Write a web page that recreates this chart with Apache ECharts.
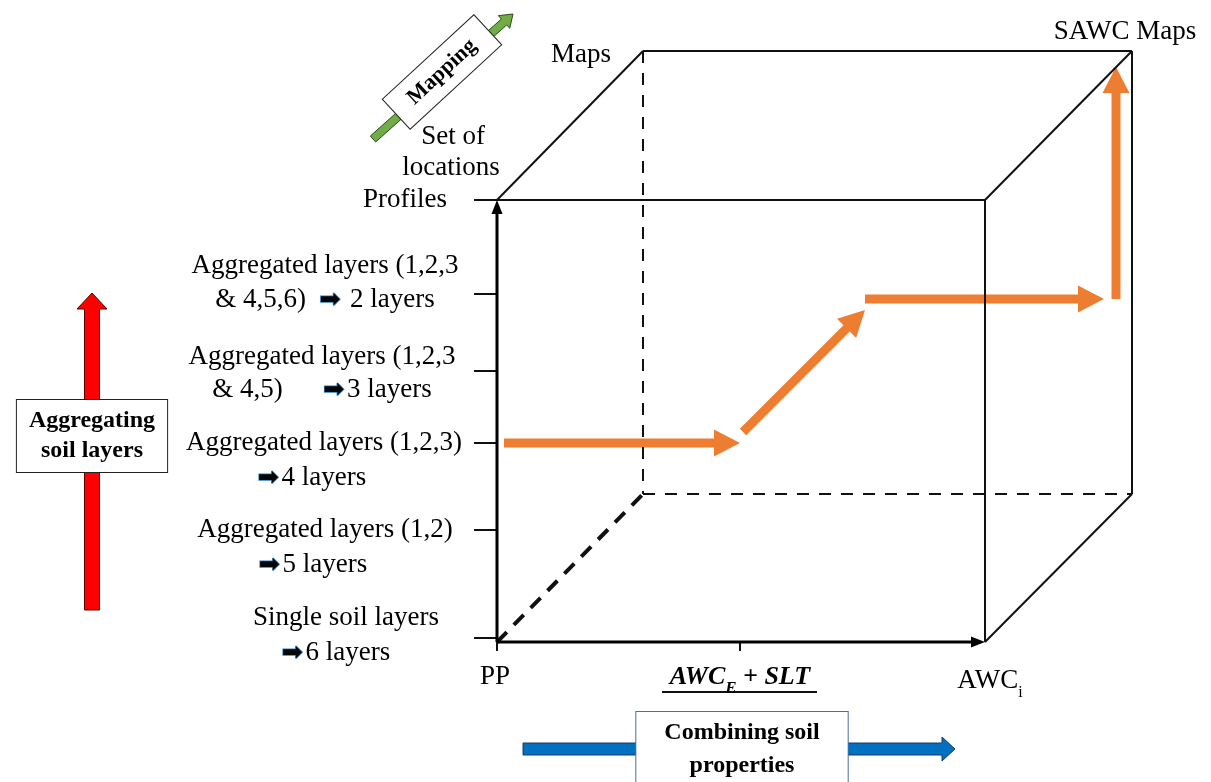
<!DOCTYPE html>
<html lang="en">
  <head>
    <meta charset="UTF-8" />
    <title>SAWC cube</title>
    <style>
      body {
        margin: 0;
        background: #fff;
      }
      #main {
        width: 1211px;
        height: 782px;
      }
    </style>
  </head>
  <body>
    <div id="main"></div>
    <script src="https://cdn.jsdelivr.net/npm/echarts@6/dist/echarts.min.js"></script>

    <script>
      // page units on both axes, y grows downwards (inverted axis)
      const frontFace = [[497, 200], [985, 200], [985, 642], [497, 642]];
      const backFace = [[643, 51], [1132, 51], [1132, 494], [643, 494]];

      // profile axis ticks (bottom to top) and property axis ticks
      const levelTicks = [638, 530, 443, 371, 294, 200];
      const propTicks = [497, 740];

      // tick labels, one entry per text line
      const levelText = [
        "Aggregated layers (1,2,3",
        "& 4,5,6)  {i|➡} 2 layers",
        "Aggregated layers (1,2,3",
        "& 4,5)      {i|➡}3 layers",
        "Aggregated layers (1,2,3)",
        "{i|➡}4 layers",
        "Aggregated layers (1,2)",
        "{i|➡}5 layers",
        "Single soil layers",
        "{i|➡}6 layers",
      ];
      const levelTextAt = [
        [325, 266], [325, 300], [322, 357], [322, 390], [324, 443],
        [312, 478], [325, 530], [313, 565], [346, 618], [336, 653],
      ];
      const cornerText = ["Maps", "SAWC Maps", "Set of", "locations", "Profiles", "PP", "AWC{sub|i}"];
      const cornerTextAt = [[581, 55], [1125, 32], [453, 137], [451, 168], [405, 200], [495, 677], [990, 681]];

      // SAWC path through the cube: [x1, y1, x2, y2]
      const pathArrows = [
        [504, 443, 740, 443],
        [743, 432, 865, 310],
        [865, 299, 1104, 299],
        [1116, 299, 1116, 67],
      ];
      const axisArrows = [
        [497, 642, 497, 200],
        [497, 642, 985, 642],
      ];
      const layerArrow = [[92, 610, 92, 293]];
      const propArrow = [[523, 749, 955, 749]];
      const mapArrow = [[373, 139, 513, 14]];

      const serif = "Liberation Serif, 'Times New Roman', serif";

      const solidEdges = [
        [frontFace[0], frontFace[1]],
        [frontFace[1], frontFace[2]],
        [frontFace[0], backFace[0]],
        [backFace[0], backFace[1]],
        [frontFace[1], backFace[1]],
        [backFace[1], backFace[2]],
        [frontFace[2], backFace[2]],
      ];
      const hiddenEdges = [
        [backFace[0], backFace[3]],
        [backFace[3], backFace[2]],
      ];
      const depthEdge = [[frontFace[3], backFace[3]]];
      const ticks = levelTicks
        .map((y) => [[474, y], [497, y]])
        .concat(propTicks.map((x) => [[x, 642], [x, 651]]))
        .concat([[[662, 692], [817, 692]]]); // underline of AWC_E + SLT

      function edges(name, list, width, dash, z) {
        return {
          name,
          type: "lines",
          coordinateSystem: "cartesian2d",
          z,
          silent: true,
          symbol: "none",
          data: list.map((c) => ({ coords: c })),
          lineStyle: { color: "#111", width, type: dash, opacity: 1, curveness: 0 },
        };
      }

      function arrows(name, data, s) {
        return {
          name,
          type: "custom",
          coordinateSystem: "cartesian2d",
          z: s.z,
          silent: true,
          data,
          encode: { x: [0, 2], y: [1, 3] },
          renderItem(params, api) {
            const a = api.coord([api.value(0), api.value(1)]);
            const b = api.coord([api.value(2), api.value(3)]);
            const dx = b[0] - a[0];
            const dy = b[1] - a[1];
            const len = Math.hypot(dx, dy);
            const ux = dx / len;
            const uy = dy / len;
            const nx = -uy;
            const ny = ux;
            const bx = b[0] - ux * s.headL;
            const by = b[1] - uy * s.headL;
            const w = s.shaft / 2;
            const h = s.headW / 2;
            const points = [
              [a[0] + nx * w, a[1] + ny * w],
              [bx + nx * w, by + ny * w],
              [bx + nx * h, by + ny * h],
              b,
              [bx - nx * h, by - ny * h],
              [bx - nx * w, by - ny * w],
              [a[0] - nx * w, a[1] - ny * w],
            ];
            return {
              type: "polygon",
              shape: { points },
              style: { fill: s.fill, stroke: s.stroke, lineWidth: s.lineWidth || 0 },
            };
          },
        };
      }

      const iconRich = {
        i: {
          fontFamily: "DejaVu Sans",
          fontSize: 25,
          color: "#050505",
          textBorderColor: "#2f7fc1",
          textBorderWidth: 1.5,
          padding: [0, 3, 0, 0],
        },
        sub: { fontFamily: serif, fontSize: 16, color: "#000", verticalAlign: "bottom", lineHeight: 40 },
      };

      function texts(name, labels, at, label, z) {
        return {
          name,
          type: "scatter",
          z: z || 6,
          silent: true,
          symbolSize: 0,
          itemStyle: { opacity: 1 },
          data: labels.map((t, i) => ({ value: at[i], name: t })),
          label: Object.assign(
            {
              show: true,
              position: "inside",
              formatter: (p) => p.name,
              color: "#000",
              opacity: 1,
              fontFamily: serif,
              fontSize: 27,
              rich: iconRich,
            },
            label
          ),
        };
      }

      const boxLabel = {
        fontWeight: "bold",
        fontSize: 24,
        lineHeight: 30,
        backgroundColor: "#fff",
        borderColor: "#222",
        borderWidth: 1,
      };

      const myChart = echarts.init(document.getElementById("main"));
      const option = {
        animation: false,
        backgroundColor: "#fff",
        grid: { left: 0, right: 0, top: 0, bottom: 0 },
        xAxis: { type: "value", min: 0, max: 1211, show: false },
        yAxis: { type: "value", min: 0, max: 782, inverse: true, show: false },
        series: [
          arrows("path", pathArrows, { fill: "#ed7d31", shaft: 9, headW: 27, headL: 26, z: 2 }),
          edges("cube", solidEdges, 2, "solid", 4),
          edges("hidden", hiddenEdges, 2, [12, 10], 4),
          edges("depth", depthEdge, 4, [14, 10], 4),
          edges("ticks", ticks, 2, "solid", 4),
          arrows("axes", axisArrows, { fill: "#000", shaft: 3, headW: 11, headL: 14, z: 4 }),
          arrows("layers", layerArrow, {
            fill: "#ff0000", stroke: "#5c0000", lineWidth: 1, shaft: 15, headW: 30, headL: 16, z: 3,
          }),
          arrows("properties", propArrow, {
            fill: "#0070c0", stroke: "#1f3864", lineWidth: 1, shaft: 12, headW: 24, headL: 13, z: 3,
          }),
          arrows("mapping", mapArrow, {
            fill: "#70ad47", stroke: "#2c4a1a", lineWidth: 1, shaft: 8, headW: 17, headL: 12, z: 3,
          }),
          texts("levels", levelText, levelTextAt, {}),
          texts("corners", cornerText, cornerTextAt, {}),
          texts("combo", ["{b|AWC}{s|E}{b| + SLT}"], [[740, 677]], {
            rich: {
              b: { fontFamily: serif, fontSize: 26, fontWeight: "bold", fontStyle: "italic", color: "#000" },
              s: {
                fontFamily: serif, fontSize: 17, fontWeight: "bold", fontStyle: "italic",
                color: "#000", verticalAlign: "bottom", lineHeight: 40,
              },
            },
          }),
          texts("boxA", ["Aggregating\nsoil layers"], [[92, 436]], Object.assign({}, boxLabel, { padding: [6, 12] })),
          texts("boxC", ["Combining soil\nproperties"], [[742, 757]], Object.assign({}, boxLabel, {
            lineHeight: 33, borderColor: "#4a6da8", padding: [4, 28, 20, 28],
          })),
          texts("boxM", ["Mapping"], [[442, 72]], Object.assign({}, boxLabel, {
            fontSize: 22, lineHeight: 24, rotate: 42.7, padding: [8, 19],
          })),
        ],
      };
      myChart.setOption(option);
    </script>
  </body>
</html>
